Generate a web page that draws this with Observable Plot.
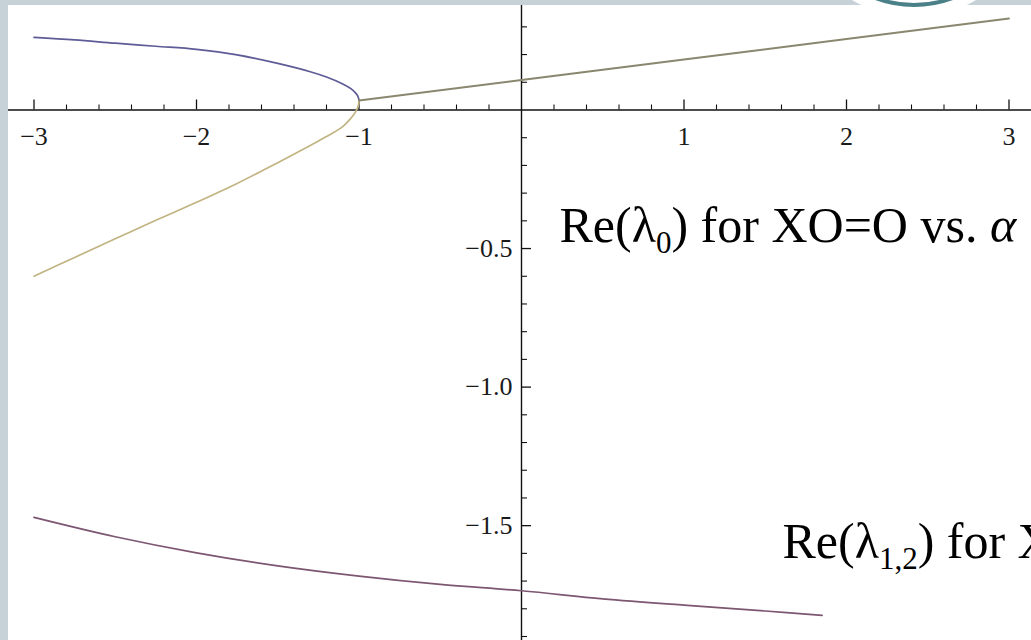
<!DOCTYPE html>
<html>
<head>
<meta charset="utf-8">
<script src="https://cdn.jsdelivr.net/npm/d3@7"></script>
<script src="https://cdn.jsdelivr.net/npm/@observablehq/plot@0.6"></script>
<style>
  html, body { margin: 0; padding: 0; width: 1031px; height: 640px; overflow: hidden; background: #c6d1d8; }
  #panel { position: absolute; left: 8px; top: 5px; width: 1023px; height: 635px; background: #fff; overflow: hidden; }
  #badge { position: absolute; left: 792px; top: -227px; width: 244px; height: 244px; border-radius: 50%; background: #fff; }
  #badge .ring { position: absolute; left: 10px; top: 10px; width: 216px; height: 216px; border-radius: 50%; border: 4px solid #4a8088; }
</style>
</head>
<body>
<div id="panel"></div>
<div id="badge"><div class="ring"></div></div>
<script>
// α samples and the real parts of λ0: two real roots for α < -1
const alphaBranch = [-3, -2.75, -2.5, -2.25, -2, -1.75, -1.5, -1.3, -1.2, -1.1, -1.05, -1.02, -1.005, -1];
const reUpper = [0.262, 0.253, 0.241, 0.23, 0.219, 0.199, 0.168, 0.138, 0.119, 0.094, 0.077, 0.061, 0.047, 0.034];
const reLower = [-0.6, -0.532, -0.465, -0.398, -0.333, -0.265, -0.19, -0.128, -0.096, -0.06, -0.03, -0.006, 0.014, 0.034];
// for α ≥ -1 the pair is complex and shares one real part
const alphaMerged = [-1, 0, 1, 2, 3];
const reMerged = [0.034, 0.108, 0.182, 0.256, 0.33];
// Re(λ1,2)
const alphaPair = [-3, -2.5, -2, -1.5, -1, -0.5, 0, 0.5, 1, 1.5, 1.85];
const rePair = [-1.47, -1.54, -1.598, -1.645, -1.682, -1.712, -1.735, -1.764, -1.787, -1.808, -1.824];

// axis ticks
const xMajor = [-3, -2, -1, 1, 2, 3];
const xLabels = ["−3", "−2", "−1", "1", "2", "3"];
const yMajor = [-0.5, -1, -1.5];
const yLabels = ["−0.5", "−1.0", "−1.5"];

// curve labels (_{…} = subscript, *…* = italic)
const noteX = [0.234, 1.606];
const noteY = [-0.419, -1.56];
const noteLabels = ["Re(λ_{0}) for XO=O vs. *α*", "Re(λ_{1,2}) for XO=O vs. *α*"];

const xMinor = d3.range(-15, 16).map(i => i / 5).filter(v => !Number.isInteger(v));
const yMinor = d3.range(-19, 4).map(i => i / 10).filter(v => v !== 0 && !yMajor.includes(v));

const zip = (xs, ys) => xs.map((a, i) => ({a, v: ys[i]}));
const upper = zip(alphaBranch, reUpper);
const lower = zip(alphaBranch, reLower);
const merged = zip(alphaMerged, reMerged);
const pair = zip(alphaPair, rePair);
const notes = noteLabels.map((label, i) => ({x: noteX[i], y: noteY[i], label}));

const serif = "'Liberation Serif', 'Times New Roman', serif";
const NOTE_SIZE = 50;
const ink = "#111";

const svg = Plot.plot({
  width: 1023,
  height: 635,
  marginLeft: 25.5,
  marginRight: 22.5,
  marginTop: 7.5,
  marginBottom: 4,
  x: {domain: [-3, 3], axis: null},
  y: {domain: [-1.9, 0.35], axis: null},
  style: {background: "white", overflow: "visible"},
  marks: [
    // axes through the origin
    Plot.ruleY([0], {stroke: ink, strokeWidth: 1.4, insetLeft: -26, insetRight: -23}),
    Plot.ruleX([0], {stroke: ink, strokeWidth: 1.4, insetTop: -8, insetBottom: -5}),
    Plot.ruleX(xMajor, {x: d => d, y1: 0, y2: 0, insetTop: -10, stroke: ink, strokeWidth: 1.3}),
    Plot.ruleX(xMinor, {x: d => d, y1: 0, y2: 0, insetTop: -5, stroke: ink, strokeWidth: 1.1}),
    Plot.ruleY(yMajor, {y: d => d, x1: 0, x2: 0, insetRight: -10, stroke: ink, strokeWidth: 1.3}),
    Plot.ruleY(yMinor, {y: d => d, x1: 0, x2: 0, insetRight: -6, stroke: ink, strokeWidth: 1.1}),
    Plot.text(xMajor, {x: d => d, y: 0, text: (d, i) => xLabels[i], dy: 27, fontSize: 26, fontFamily: serif, fill: "#1a1a1a"}),
    Plot.text(yMajor, {x: 0, y: d => d, text: (d, i) => yLabels[i], dx: -9, textAnchor: "end", fontSize: 26, fontFamily: serif, fill: "#1a1a1a"}),
    // curves
    Plot.line(upper, {x: "a", y: "v", stroke: "#5e5c96", strokeWidth: 1.7, curve: "catmull-rom"}),
    Plot.line(lower, {x: "a", y: "v", stroke: "#c2b482", strokeWidth: 1.7, curve: "catmull-rom"}),
    Plot.line(merged, {x: "a", y: "v", stroke: "#8a876e", strokeWidth: 1.9}),
    Plot.line(pair, {x: "a", y: "v", stroke: "#7c5672", strokeWidth: 1.7, curve: "catmull-rom"}),
    // labels
    Plot.text(notes, {x: "x", y: "y", text: "label", textAnchor: "start", fontSize: NOTE_SIZE, fontFamily: serif, fill: "black"})
  ]
});

// turn the _{…} and *…* markup into subscript and italic tspans
const shift = NOTE_SIZE * 0.22;
d3.select(svg).selectAll("text").each(function () {
  const s = this.textContent;
  if (!/_\{|\*/.test(s)) return;
  const parts = s.split(/(_\{[^}]*\}|\*[^*]*\*)/).filter(p => p);
  const el = d3.select(this);
  el.text(null);
  let lowered = false;
  for (const p of parts) {
    if (p.startsWith("_{")) {
      el.append("tspan").attr("dy", shift).attr("font-size", NOTE_SIZE * 0.62).text(p.slice(2, -1));
      lowered = true;
    } else {
      const t = el.append("tspan");
      if (lowered) { t.attr("dy", -shift); lowered = false; }
      if (p.startsWith("*")) t.attr("font-style", "italic").text(p.slice(1, -1));
      else t.text(p);
    }
  }
});

document.getElementById("panel").append(svg);
</script>
</body>
</html>
